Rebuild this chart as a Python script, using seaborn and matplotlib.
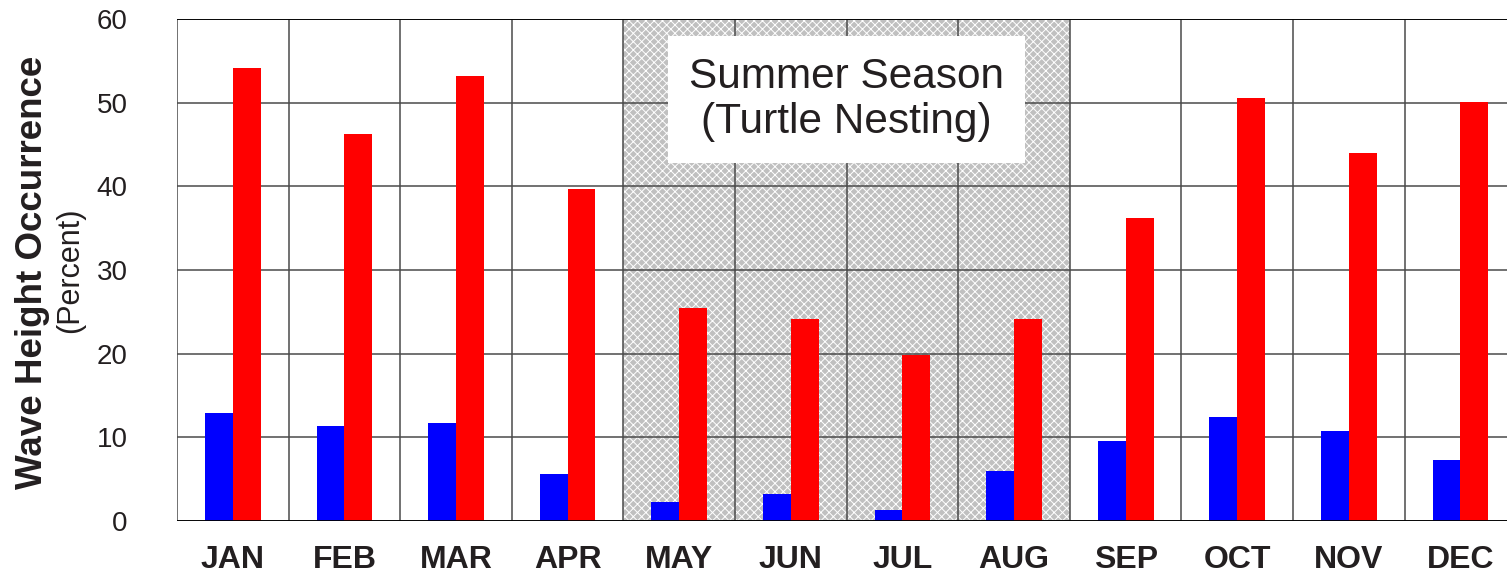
import numpy as np
import pandas as pd
import matplotlib
matplotlib.use("Agg")
import matplotlib.pyplot as plt
from matplotlib.ticker import MultipleLocator, FixedLocator
import seaborn as sns

MONTHS = ["JAN", "FEB", "MAR", "APR", "MAY", "JUN",
          "JUL", "AUG", "SEP", "OCT", "NOV", "DEC"]
SERIES_A = [12.9, 11.4, 11.7, 5.6, 2.3, 3.2, 1.3, 6.0, 9.6, 12.4, 10.8, 7.3]
SERIES_B = [54.1, 46.2, 53.2, 39.7, 25.4, 24.1, 19.8, 24.1, 36.2, 50.5, 44.0, 50.1]
SERIES_NAMES = ["Series A", "Series B"]
SUMMER = ["MAY", "JUN", "JUL", "AUG"]

TEXT = "#231f20"
LINE = "#4a4a4a"

df = pd.DataFrame({
    "month": MONTHS * 2,
    "value": SERIES_A + SERIES_B,
    "series": [SERIES_NAMES[0]] * 12 + [SERIES_NAMES[1]] * 12,
})

sns.set_style("white")
plt.rcParams["font.family"] = ["Liberation Sans", "DejaVu Sans"]
plt.rcParams["hatch.linewidth"] = 0.7

fig = plt.figure(figsize=(15.07, 5.74), dpi=100)
ax = fig.add_axes([177 / 1507, 1 - 521 / 574, 1 - 177 / 1507, (521 - 19) / 574])

sns.barplot(
    data=df, x="month", y="value", hue="series", order=MONTHS,
    palette=["#0000ff", "#ff0000"], width=0.5, gap=0, saturation=1,
    linewidth=0, legend=False, ax=ax,
)

# shaded summer months
i0 = MONTHS.index(SUMMER[0]) - 0.5
i1 = MONTHS.index(SUMMER[-1]) + 0.5
ax.axvspan(i0, i1, ymin=0, ymax=1, facecolor="#c0c0c0", edgecolor="white",
           hatch="xxxx", linewidth=0, zorder=0.2)

ax.text((i0 + i1) / 2, 50.4, "Summer Season\n(Turtle Nesting)",
        ha="center", va="center", fontsize=30.5, color=TEXT, linespacing=1.15,
        zorder=6,
        bbox=dict(boxstyle="square,pad=0.5", facecolor="white", edgecolor="none"))

ax.set_xlim(-0.5, -0.5 + 1330 / 111.6)
ax.set_ylim(0, 60)
ax.set_axisbelow(True)

# y axis
ax.yaxis.set_major_locator(MultipleLocator(10))
ax.yaxis.set_minor_locator(MultipleLocator(5))
ax.tick_params(axis="y", which="major", length=24.5, width=1.1, color=LINE,
               pad=11, labelsize=20, labelcolor=TEXT, direction="out")
ax.tick_params(axis="y", which="minor", length=12, width=1.1, color=LINE,
               direction="out")
ax.grid(axis="y", which="major", color=LINE, linewidth=1.1)

# x axis: month separators extend below the baseline
ax.xaxis.set_minor_locator(FixedLocator(np.arange(-0.5, 12, 1)))
ax.tick_params(axis="x", which="major", length=0, pad=17, labelsize=23,
               labelcolor=TEXT)
ax.tick_params(axis="x", which="minor", length=24.5, width=1.1, color=LINE,
               direction="out")
ax.grid(axis="x", which="minor", color=LINE, linewidth=1.1)
for lab in ax.get_xticklabels():
    lab.set_fontweight("bold")

ax.axhline(0, color="black", linewidth=1.3, zorder=3)
ax.axhline(60, color="black", linewidth=1.3, zorder=3)

for s in ax.spines.values():
    s.set_visible(False)
ax.set_xlabel("")
ax.set_ylabel("")

fig.text(33 / 1507, 1 - 272 / 574, "Wave Height Occurrence", rotation=90,
         ha="center", va="center", fontsize=26.5, fontweight="bold", color=TEXT)
fig.text(70 / 1507, 1 - 270 / 574, "(Percent)", rotation=90,
         ha="center", va="center", fontsize=22, color=TEXT)

fig.savefig("out.png", dpi=100, facecolor="white")
